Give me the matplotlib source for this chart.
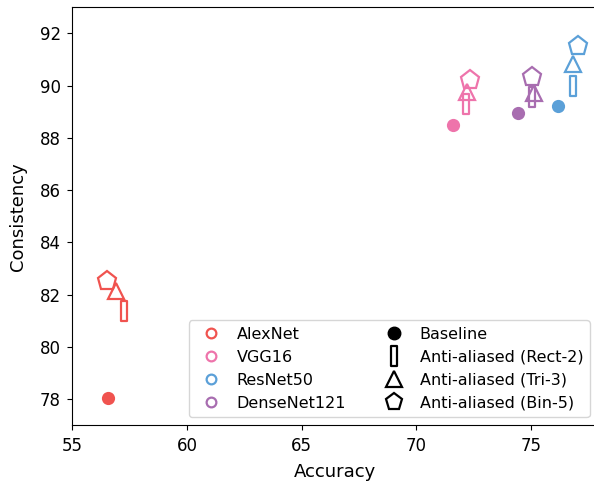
import numpy as np
import matplotlib
matplotlib.use('Agg')
import matplotlib.pyplot as plt
from matplotlib.path import Path
from matplotlib.lines import Line2D

nets = ['AlexNet', 'VGG16', 'ResNet50', 'DenseNet121']
colors = ['#f0534f', '#ee74ab', '#5ba0d8', '#a86db0']
variants = ['Baseline', 'Anti-aliased (Rect-2)', 'Anti-aliased (Tri-3)', 'Anti-aliased (Bin-5)']

# accuracy / consistency per net: baseline, rect-2, tri-3, bin-5
acc_alexnet = [56.55, 57.24, 56.90, 56.50]
con_alexnet = [78.03, 81.36, 82.12, 82.50]
acc_vgg16 = [71.59, 72.15, 72.20, 72.33]
con_vgg16 = [88.50, 89.28, 89.75, 90.22]
acc_resnet50 = [76.16, 76.81, 76.83, 77.04]
con_resnet50 = [89.22, 90.00, 90.82, 91.50]
acc_densenet121 = [74.43, 75.04, 75.14, 75.03]
con_densenet121 = [88.94, 89.55, 89.70, 90.32]

accs = [acc_alexnet, acc_vgg16, acc_resnet50, acc_densenet121]
cons = [con_alexnet, con_vgg16, con_resnet50, con_densenet121]

rect = Path([(-0.3, -1), (0.3, -1), (0.3, 1), (-0.3, 1), (-0.3, -1)],
            [Path.MOVETO, Path.LINETO, Path.LINETO, Path.LINETO, Path.CLOSEPOLY])
markers = ['o', rect, '^', 'p']
sizes = [9.5, 14, 12, 14]
leg_sizes = [9, 14, 11.5, 12.5]

fig = plt.figure(figsize=(5.94, 4.82), dpi=100)
# right spine falls just outside the picture, as in the cropped original
ax = fig.add_axes([0.122, 0.118, 0.884, 0.867])

for n in range(len(nets)):
    for v in range(len(variants)):
        if v == 0:
            ax.plot(accs[n][v], cons[n][v], marker='o', ms=sizes[v], color=colors[n],
                    mec='none', ls='none')
        else:
            ax.plot(accs[n][v], cons[n][v], marker=markers[v], ms=sizes[v], mfc='none',
                    mec=colors[n], mew=1.6, ls='none')

ax.set_xlim(55, 77.9)
ax.set_ylim(77, 93)
ax.set_xticks([55, 60, 65, 70, 75])
ax.set_yticks([78, 80, 82, 84, 86, 88, 90, 92])
ax.tick_params(labelsize=12, pad=5)
ax.set_xlabel('Accuracy', fontsize=13, labelpad=6)
ax.set_ylabel('Consistency', fontsize=13, labelpad=9)

handles = []
for n in range(len(nets)):
    handles.append(Line2D([], [], marker='o', ms=7, mfc='none', mec=colors[n], mew=1.6,
                          ls='none', label=nets[n]))
for v in range(len(variants)):
    if v == 0:
        handles.append(Line2D([], [], marker='o', ms=leg_sizes[v], color='black', ls='none',
                              label=variants[v]))
    else:
        handles.append(Line2D([], [], marker=markers[v], ms=leg_sizes[v], mfc='none',
                              mec='black', mew=1.6, ls='none', label=variants[v]))

ax.legend(handles=handles, ncol=2, loc='lower right', fontsize=11.5,
          columnspacing=2.0, handletextpad=0.6, labelspacing=0.5)

fig.savefig('out.png', dpi=100)
